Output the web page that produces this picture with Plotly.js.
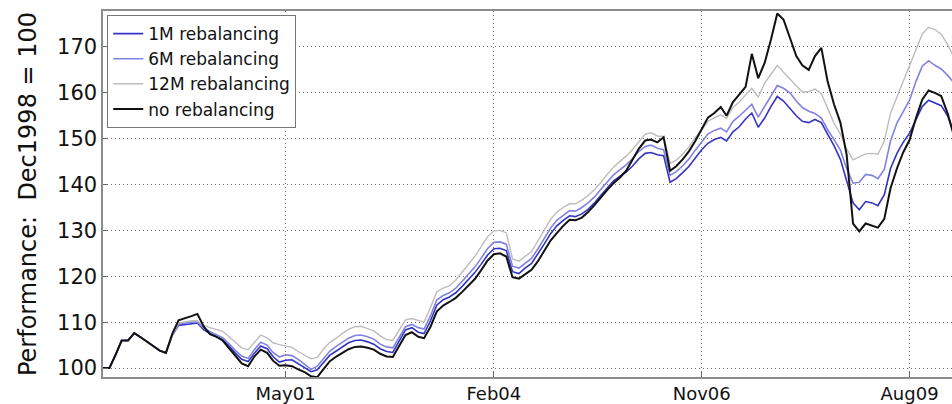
<!DOCTYPE html>
<html>
<head>
<meta charset="utf-8">
<script src="https://cdn.plot.ly/plotly-3.0.1.min.js"></script>
<style>html,body{margin:0;padding:0;background:#fff;overflow:hidden}#chart{width:952px;height:404px}</style>
</head>
<body>
<div id="chart"></div>
<script>
// Monthly observation dates (Dec 1998 .. Mar 2010)
const months = [
 '1998-12',
 '1999-01','1999-02','1999-03','1999-04','1999-05','1999-06','1999-07','1999-08','1999-09','1999-10','1999-11','1999-12',
 '2000-01','2000-02','2000-03','2000-04','2000-05','2000-06','2000-07','2000-08','2000-09','2000-10','2000-11','2000-12',
 '2001-01','2001-02','2001-03','2001-04','2001-05','2001-06','2001-07','2001-08','2001-09','2001-10','2001-11','2001-12',
 '2002-01','2002-02','2002-03','2002-04','2002-05','2002-06','2002-07','2002-08','2002-09','2002-10','2002-11','2002-12',
 '2003-01','2003-02','2003-03','2003-04','2003-05','2003-06','2003-07','2003-08','2003-09','2003-10','2003-11','2003-12',
 '2004-01','2004-02','2004-03','2004-04','2004-05','2004-06','2004-07','2004-08','2004-09','2004-10','2004-11','2004-12',
 '2005-01','2005-02','2005-03','2005-04','2005-05','2005-06','2005-07','2005-08','2005-09','2005-10','2005-11','2005-12',
 '2006-01','2006-02','2006-03','2006-04','2006-05','2006-06','2006-07','2006-08','2006-09','2006-10','2006-11','2006-12',
 '2007-01','2007-02','2007-03','2007-04','2007-05','2007-06','2007-07','2007-08','2007-09','2007-10','2007-11','2007-12',
 '2008-01','2008-02','2008-03','2008-04','2008-05','2008-06','2008-07','2008-08','2008-09','2008-10','2008-11','2008-12',
 '2009-01','2009-02','2009-03','2009-04','2009-05','2009-06','2009-07','2009-08','2009-09','2009-10','2009-11','2009-12',
 '2010-01','2010-02','2010-03'
];

const rebal1M = [
 100,100,103,106,106,107.6,106.7,105.8,104.8,103.8,103.3,107.2,109.3,
 109.5,109.6,109.8,108.3,107.5,106.9,106.2,104.8,103.2,101.9,101.4,103.2,
 104.8,104.2,102.5,101.3,101.7,101.8,100.9,100.0,99.2,99.6,101.2,102.8,
 103.7,104.7,105.5,106.0,106.1,105.7,105.2,104.2,103.6,103.4,106.0,108.3,
 108.8,107.8,107.5,110.3,113.7,114.9,115.5,116.4,117.8,119.3,120.8,122.6,
 124.6,126.0,126.1,125.6,121.0,120.6,121.8,122.8,124.8,127.0,129.3,131.0,
 132.2,133.2,133.0,133.6,134.6,136.0,137.6,139.2,140.8,141.8,142.7,144.0,
 145.6,146.8,147.0,146.5,146.3,140.5,141.3,142.6,144.0,145.8,147.6,149.0,
 149.8,150.3,149.5,151.5,152.6,154.3,155.6,152.5,154.5,157.0,159.2,158.2,
 156.5,155.0,153.8,153.5,154.2,153.5,151.0,148.5,145.5,141.0,136.0,134.5,
 136.3,136.0,135.4,137.8,143.5,146.8,149.2,151.2,154.2,157.0,158.4,157.8,
 157.2,155.0,151.5
];

const rebal6M = [
 100,100,103,106,106,107.6,106.7,105.8,104.8,103.8,103.3,107.2,109.6,
 109.8,110.0,110.0,108.7,107.9,107.3,106.6,105.3,103.8,102.6,102.1,104.0,
 105.6,105.0,103.4,102.4,102.9,102.7,101.9,100.8,99.7,100.4,102.0,103.7,
 104.7,105.7,106.5,107.1,107.2,106.8,106.3,105.2,104.6,104.4,106.9,109.0,
 109.5,108.8,108.5,111.4,114.8,115.8,116.4,117.4,118.9,120.4,122.0,123.9,
 126.0,127.4,127.5,127.0,122.2,121.8,122.9,123.9,126.0,128.2,130.5,132.2,
 133.3,134.3,134.2,135.0,136.0,137.3,138.9,140.6,142.1,143.2,144.3,145.6,
 147.2,148.3,148.6,147.9,147.6,142.0,142.8,144.1,145.6,147.5,149.4,151.0,
 151.8,152.3,151.5,153.8,154.9,156.2,157.5,154.7,157.0,159.5,161.6,161.0,
 160.0,158.2,156.8,156.0,155.5,154.5,152.0,149.8,147.5,143.5,140.3,140.5,
 142.2,142.0,141.3,143.3,149.5,153.4,156.0,158.4,162.5,165.8,167.0,166.0,
 165.2,163.8,162.3
];

const rebal12M = [
 100,100,103,106,106,107.6,106.7,105.8,104.8,103.8,103.3,107.3,109.8,
 110.1,110.3,110.3,109.3,108.8,108.4,108.0,106.8,105.5,104.4,104.0,105.7,
 107.2,106.6,105.5,105.1,104.8,104.5,103.6,102.8,102.0,102.3,104.2,105.6,
 106.5,107.6,108.4,109.0,109.1,108.6,108.1,107.0,106.2,106.0,108.4,110.5,
 110.8,110.3,110.0,113.2,116.6,117.4,117.9,119.2,120.9,122.6,124.3,126.4,
 128.6,129.9,130.0,129.5,123.8,123.3,124.4,125.4,127.7,130.0,132.4,134.0,
 135.0,135.8,135.8,136.6,137.6,138.9,140.4,142.2,143.8,145.0,146.2,147.6,
 149.3,151.0,151.3,150.6,150.5,144.6,145.3,146.6,148.2,150.3,151.9,153.8,
 154.6,155.2,154.4,156.8,158.0,159.5,161.0,159.1,162.1,164.0,166.0,164.5,
 163.0,161.5,160.2,160.3,160.8,159.8,156.8,153.4,151.0,147.8,145.4,146.1,
 146.7,146.8,146.6,149.5,155.5,159.1,162.5,165.6,169.5,172.8,174.3,173.8,
 172.8,170.5,168.0
];

const noRebal = [
 100,100,103,106,106,107.6,106.7,105.8,104.8,103.8,103.3,107.5,110.4,
 110.8,111.3,111.8,109.0,107.4,106.8,106.0,104.3,102.5,101.0,100.4,102.5,
 104.0,103.3,101.6,100.5,100.6,100.4,99.7,99.1,98.2,98.0,99.8,101.5,
 102.5,103.4,104.1,104.6,104.7,104.4,104.0,103.1,102.5,102.4,105.0,107.2,
 107.8,106.8,106.5,109.0,112.3,113.6,114.4,115.3,116.6,118.0,119.4,121.3,
 123.4,124.8,125.0,124.3,119.8,119.5,120.5,121.4,123.3,125.6,127.8,129.4,
 131.0,132.3,132.2,132.8,134.0,135.5,137.2,138.8,140.3,141.5,143.0,145.3,
 147.8,149.6,149.8,149.2,150.3,143.0,144.0,145.5,147.3,149.5,152.0,154.6,
 155.6,156.9,155.0,158.0,159.6,161.3,168.5,163.2,166.5,171.5,177.3,176.0,
 172.0,168.0,166.0,165.0,168.0,169.8,162.5,157.5,153.5,146.5,131.5,129.8,
 131.5,131.0,130.6,132.5,139.2,143.5,147.0,149.7,154.5,158.5,160.5,160.0,
 159.3,155.5,151.0
];

const seriesNames = ['1M rebalancing', '6M rebalancing', '12M rebalancing', 'no rebalancing'];
const xTickVals = ['2001-05-01', '2004-02-01', '2006-11-01', '2009-08-01'];
const xTickText = ['May01', 'Feb04', 'Nov06', 'Aug09'];
const yTickVals = [100, 110, 120, 130, 140, 150, 160, 170];

const colors = ['#3434c4', '#8282e2', '#bdbdbd', '#111111'];
const widths = [1.6, 1.6, 1.4, 2];
const allSeries = [rebal1M, rebal6M, rebal12M, noRebal];

const traces = allSeries.map((ys, i) => ({
  type: 'scatter', mode: 'lines', x: months, y: ys, name: seriesNames[i],
  line: {color: colors[i], width: widths[i]}
}));

const axisCommon = {
  showgrid: true, gridcolor: '#707070', griddash: '1px,3px', gridwidth: 1,
  showline: true, linecolor: '#8c8c8c', linewidth: 1.6,
  ticks: 'inside', ticklen: 5, tickcolor: '#666', zeroline: false,
  tickfont: {family: 'DejaVu Sans', size: 21, color: '#111'}
};

const layout = {
  width: 952, height: 404,
  margin: {l: 103, r: 0, t: 11, b: 27},
  paper_bgcolor: '#fff', plot_bgcolor: '#fff',
  font: {family: 'DejaVu Sans', color: '#111'},
  showlegend: true,
  legend: {
    x: 0.005, y: 0.989, xanchor: 'left', yanchor: 'top',
    bgcolor: '#fff', bordercolor: '#777', borderwidth: 1,
    font: {family: 'DejaVu Sans', size: 17, color: '#111'},
    itemwidth: 30, tracegroupgap: 0
  },
  xaxis: Object.assign({}, axisCommon, {
    type: 'date', range: ['1998-12-01', '2010-02-22'],
    tickmode: 'array', tickvals: xTickVals, ticktext: xTickText,
    tickfont: {family: 'DejaVu Sans', size: 18, color: '#111'},
    mirror: true
  }),
  yaxis: Object.assign({}, axisCommon, {
    range: [98.04, 177.84], tickmode: 'array', tickvals: yTickVals,
    title: {text: 'Performance:\u00a0\u00a0Dec1998 = 100', font: {family: 'DejaVu Sans', size: 24, color: '#111'}, standoff: 14}
  })
};

Plotly.newPlot('chart', traces, layout, {staticPlot: true, displayModeBar: false});
</script>
</body>
</html>
